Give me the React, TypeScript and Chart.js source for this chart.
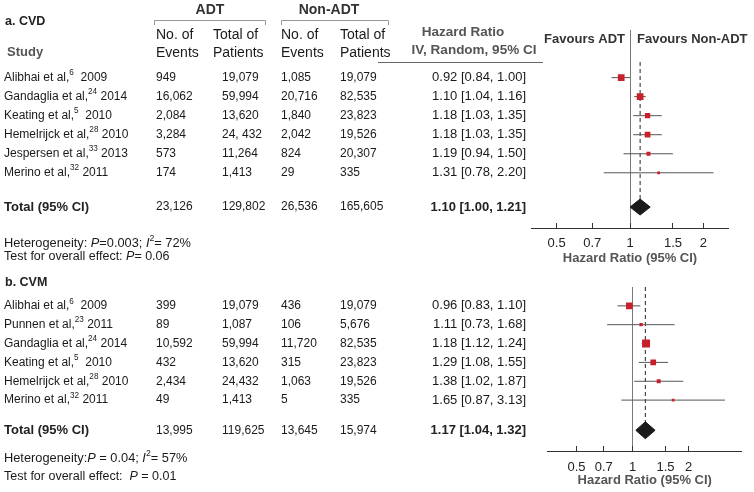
import React, { useEffect, useRef } from 'react';
import { Chart, registerables } from 'chart.js';

Chart.register(...registerables);

const FONT = '"Liberation Sans", Arial, Helvetica, sans-serif';

// ---------- Panel a: CVD ----------
const studiesA = ['Alibhai et al,', 'Gandaglia et al,', 'Keating et al,', 'Hemelrijck et al,', 'Jespersen et al,', 'Merino et al,'];
const refsA = ['6', '24', '5', '28', '33', '32'];
const yearsA = ['2009', '2014', '2010', '2010', '2013', '2011'];
const eventsAdtA = ['949', '16,062', '2,084', '3,284', '573', '174'];
const patientsAdtA = ['19,079', '59,994', '13,620', '24, 432', '11,264', '1,413'];
const eventsNonA = ['1,085', '20,716', '1,840', '2,042', '824', '29'];
const patientsNonA = ['19,079', '82,535', '23,823', '19,526', '20,307', '335'];
const hrA = [0.92, 1.10, 1.18, 1.18, 1.19, 1.31];
const loA = [0.84, 1.04, 1.03, 1.03, 0.94, 0.78];
const hiA = [1.00, 1.16, 1.35, 1.35, 1.50, 2.20];
const weightsA = [25.8, 25.8, 16.2, 18.7, 9.2, 4.2];
const totalsA = ['23,126', '129,802', '26,536', '165,605'];
const pooledA = [1.10, 1.00, 1.21];
const hetA = ['0.003', '72%'];
const testA = ['0.06'];

// ---------- Panel b: CVM ----------
const studiesB = ['Alibhai et al,', 'Punnen et al,', 'Gandaglia et al,', 'Keating et al,', 'Hemelrijck et al,', 'Merino et al,'];
const refsB = ['6', '23', '24', '5', '28', '32'];
const yearsB = ['2009', '2011', '2014', '2010', '2010', '2011'];
const eventsAdtB = ['399', '89', '10,592', '432', '2,434', '49'];
const patientsAdtB = ['19,079', '1,087', '59,994', '13,620', '24,432', '1,413'];
const eventsNonB = ['436', '106', '11,720', '315', '1,063', '5'];
const patientsNonB = ['19,079', '5,676', '82,535', '23,823', '19,526', '335'];
const hrB = [0.96, 1.11, 1.18, 1.29, 1.38, 1.65];
const loB = [0.83, 0.73, 1.12, 1.08, 1.02, 0.87];
const hiB = [1.10, 1.68, 1.24, 1.55, 1.87, 3.13];
const weightsB = [25.6, 6.2, 36.4, 18.5, 9.1, 4.2];
const totalsB = ['13,995', '119,625', '13,645', '15,974'];
const pooledB = [1.17, 1.04, 1.32];
const hetB = ['0.04', '57%'];
const testB = ['0.01'];

const tickValues = [0.5, 0.7, 1, 1.5, 2];
const tickLabels = ['0.5', '0.7', '1', '1.5', '2'];
const axisTitle = 'Hazard Ratio (95% CI)';

type Seg = { t: string; sup?: boolean; it?: boolean };

function fnt(size: number, bold?: boolean, italic?: boolean) {
  return `${italic ? 'italic ' : ''}${bold ? 'bold ' : ''}${size}px ${FONT}`;
}

function drawRich(
  ctx: CanvasRenderingContext2D,
  segs: Seg[],
  x: number,
  y: number,
  size: number,
  color: string,
  bold = false,
  align: 'left' | 'right' | 'center' = 'left'
) {
  ctx.save();
  ctx.textAlign = 'left';
  ctx.textBaseline = 'middle';
  ctx.fillStyle = color;
  const widths = segs.map((s) => {
    ctx.font = fnt(s.sup ? size * 0.68 : size, bold, s.it);
    return ctx.measureText(s.t).width;
  });
  const total = widths.reduce((a, b) => a + b, 0);
  let cx = align === 'right' ? x - total : align === 'center' ? x - total / 2 : x;
  segs.forEach((s, i) => {
    ctx.font = fnt(s.sup ? size * 0.68 : size, bold, s.it);
    ctx.fillText(s.t, cx, s.sup ? y - size * 0.38 : y);
    cx += widths[i];
  });
  ctx.restore();
}

const fmt = (v: number) => v.toFixed(2);

interface Panel {
  label: string;
  studies: string[];
  refs: string[];
  years: string[];
  evA: string[];
  ptA: string[];
  evN: string[];
  ptN: string[];
  hr: number[];
  lo: number[];
  hi: number[];
  w: number[];
  totals: string[];
  pooled: number[];
  het: string[];
  test: string[];
}

interface Layout {
  height: number;
  padTop: number;
  padLeft: number;
  padRight: number;
  xMin: number;
  xMax: number;
  yMin: number;
  yMax: number;
  totalRow: number;
  dashTop: number;
  diamondHalf: number;
  axisHeight: number;
  tickPad: number;
  titlePad: number;
  labelY: number;
  hetY: number;
  testY: number;
  hetSpace: string;
  testSpace: string;
  header: boolean;
}

const panelA: Panel = {
  label: 'a. CVD', studies: studiesA, refs: refsA, years: yearsA, evA: eventsAdtA, ptA: patientsAdtA,
  evN: eventsNonA, ptN: patientsNonA, hr: hrA, lo: loA, hi: hiA, w: weightsA, totals: totalsA,
  pooled: pooledA, het: hetA, test: testA,
};
const panelB: Panel = {
  label: 'b. CVM', studies: studiesB, refs: refsB, years: yearsB, evA: eventsAdtB, ptA: patientsAdtB,
  evN: eventsNonB, ptN: patientsNonB, hr: hrB, lo: loB, hi: hiB, w: weightsB, totals: totalsB,
  pooled: pooledB, het: hetB, test: testB,
};

const layoutA: Layout = {
  height: 268, padTop: 30, padLeft: 531.7, padRight: 25.7, xMin: 0.395, xMax: 2.53,
  yMin: -2.5, yMax: 7.9, totalRow: 6.8, dashTop: -0.82, diamondHalf: 0.42,
  axisHeight: 40, tickPad: 13, titlePad: 2, labelY: 22, hetY: 243, testY: 257,
  hetSpace: ' ', testSpace: ' ', header: true,
};
const layoutB: Layout = {
  height: 224, padTop: 19, padLeft: 547.7, padRight: 12.3, xMin: 0.35, xMax: 3.85,
  yMin: -1, yMax: 7.7, totalRow: 6.6, dashTop: -1, diamondHalf: 0.45,
  axisHeight: 41, tickPad: 14, titlePad: 4, labelY: 15, hetY: 190, testY: 209,
  hetSpace: '', testSpace: '  ', header: false,
};

const TXT = '#1a1a1a';
const COL = { name: 4, evA: 156, ptA: 222, evN: 281, ptN: 340, hr: 526 };

function drawHeader(ctx: CanvasRenderingContext2D) {
  drawRich(ctx, [{ t: 'ADT' }], 210, 10, 14, '#333', true, 'center');
  drawRich(ctx, [{ t: 'Non-ADT' }], 329, 10, 14, '#333', true, 'center');
  ctx.save();
  ctx.strokeStyle = '#999';
  ctx.lineWidth = 1;
  ctx.beginPath();
  ctx.moveTo(154.5, 25); ctx.lineTo(154.5, 20.5); ctx.lineTo(265.5, 20.5); ctx.lineTo(265.5, 25);
  ctx.moveTo(281.5, 25); ctx.lineTo(281.5, 20.5); ctx.lineTo(388.5, 20.5); ctx.lineTo(388.5, 25);
  ctx.stroke();
  ctx.strokeStyle = '#666';
  ctx.beginPath();
  ctx.moveTo(378, 62.5); ctx.lineTo(543, 62.5);
  ctx.stroke();
  ctx.restore();
  const cols: [number, string, string][] = [
    [COL.evA, 'No. of', 'Events'],
    [213, 'Total of', 'Patients'],
    [COL.evN, 'No. of', 'Events'],
    [COL.ptN, 'Total of', 'Patients'],
  ];
  cols.forEach(([x, a, b]) => {
    drawRich(ctx, [{ t: a }], x, 35, 14, TXT);
    drawRich(ctx, [{ t: b }], x, 53, 14, TXT);
  });
  drawRich(ctx, [{ t: 'Study' }], 7, 52, 13, '#555', true);
  drawRich(ctx, [{ t: 'Hazard Ratio' }], 463, 32, 13.5, '#555', true, 'center');
  drawRich(ctx, [{ t: 'IV, Random, 95% CI' }], 474, 50, 13.5, '#555', true, 'center');
  drawRich(ctx, [{ t: 'Favours ADT' }], 625, 39, 13, '#333', true, 'right');
  drawRich(ctx, [{ t: 'Favours Non-ADT' }], 637, 39, 13, '#333', true, 'left');
}

function buildChart(canvas: HTMLCanvasElement, p: Panel, lay: Layout) {
  const rows = p.hr.map((_, i) => i);
  const datasets: any[] = [];
  datasets.push({
    type: 'scatter',
    data: p.hr.map((v, i) => ({ x: v, y: rows[i] })),
    pointStyle: 'rect',
    pointRadius: p.w.map((w) => (1.32 * Math.sqrt(w)) / Math.SQRT2),
    backgroundColor: '#c8202a',
    borderWidth: 0,
  });
  const [ph, pl, pu] = p.pooled;
  const tr = lay.totalRow;
  const h = lay.diamondHalf;
  datasets.push({
    type: 'line',
    data: [
      { x: pl, y: tr }, { x: ph, y: tr - h }, { x: pu, y: tr }, { x: ph, y: tr + h }, { x: pl, y: tr },
    ],
    fill: 'shape',
    backgroundColor: '#1a1a1a',
    borderColor: '#1a1a1a',
    borderWidth: 1,
    pointRadius: 0,
    tension: 0,
  });
  rows.forEach((r, i) => {
    datasets.push({
      type: 'line',
      data: [{ x: p.lo[i], y: r }, { x: p.hi[i], y: r }],
      borderColor: '#555',
      borderWidth: 1,
      pointRadius: 0,
      fill: false,
    });
  });
  datasets.push({
    type: 'line',
    data: [{ x: ph, y: lay.dashTop }, { x: ph, y: tr }],
    borderColor: '#222',
    borderWidth: 1,
    borderDash: [4, 3],
    pointRadius: 0,
    fill: false,
  });

  const tablePlugin = {
    id: 'table',
    afterDraw(chart: any) {
      const ctx: CanvasRenderingContext2D = chart.ctx;
      const ys = chart.scales.y;
      if (lay.header) drawHeader(ctx);
      drawRich(ctx, [{ t: p.label }], 5, lay.labelY, 12.5, '#222', true);
      rows.forEach((r, i) => {
        const y = ys.getPixelForValue(r);
        const gap = p.refs[i].length === 1 ? '  ' : ' ';
        drawRich(ctx, [{ t: p.studies[i] }, { t: p.refs[i], sup: true }, { t: gap + p.years[i] }], COL.name, y, 12, TXT);
        drawRich(ctx, [{ t: p.evA[i] }], COL.evA, y, 12, TXT);
        drawRich(ctx, [{ t: p.ptA[i] }], COL.ptA, y, 12, TXT);
        drawRich(ctx, [{ t: p.evN[i] }], COL.evN, y, 12, TXT);
        drawRich(ctx, [{ t: p.ptN[i] }], COL.ptN, y, 12, TXT);
        drawRich(ctx, [{ t: `${fmt(p.hr[i])} [${fmt(p.lo[i])}, ${fmt(p.hi[i])}]` }], COL.hr, y, 13, TXT, false, 'right');
      });
      const ty = ys.getPixelForValue(tr);
      drawRich(ctx, [{ t: 'Total (95% CI)' }], COL.name, ty, 13, '#222', true);
      drawRich(ctx, [{ t: p.totals[0] }], COL.evA, ty, 12, TXT);
      drawRich(ctx, [{ t: p.totals[1] }], COL.ptA, ty, 12, TXT);
      drawRich(ctx, [{ t: p.totals[2] }], COL.evN, ty, 12, TXT);
      drawRich(ctx, [{ t: p.totals[3] }], COL.ptN, ty, 12, TXT);
      drawRich(ctx, [{ t: `${fmt(ph)} [${fmt(pl)}, ${fmt(pu)}]` }], COL.hr, ty, 13, '#222', true, 'right');
      drawRich(
        ctx,
        [{ t: 'Heterogeneity:' + lay.hetSpace }, { t: 'P', it: true }, { t: (lay.header ? '=' : ' = ') + p.het[0] + '; ' }, { t: 'I', it: true }, { t: '2', sup: true }, { t: '= ' + p.het[1] }],
        COL.name, lay.hetY, 12.8, TXT
      );
      drawRich(
        ctx,
        [{ t: 'Test for overall effect:' + lay.testSpace }, { t: 'P', it: true }, { t: (lay.header ? '= ' : ' = ') + p.test[0] }],
        COL.name, lay.testY, 12.5, TXT
      );
    },
  };

  return new Chart(canvas, {
    type: 'scatter',
    data: { datasets },
    plugins: [tablePlugin],
    options: {
      responsive: false,
      animation: false,
      devicePixelRatio: 1,
      events: [],
      layout: { padding: { top: lay.padTop, left: lay.padLeft, right: lay.padRight, bottom: 0 } },
      plugins: { legend: { display: false }, tooltip: { enabled: false }, title: { display: false } },
      scales: {
        x: {
          type: 'logarithmic',
          position: 'bottom',
          min: lay.xMin,
          max: lay.xMax,
          afterBuildTicks: (s: any) => {
            s.ticks = tickValues.map((v) => ({ value: v }));
          },
          afterFit: (s: any) => {
            s.height = lay.axisHeight;
          },
          ticks: {
            autoSkip: false,
            maxRotation: 0,
            padding: lay.tickPad,
            color: '#222',
            font: { family: FONT, size: 13 },
            callback: (v: any) => {
              const i = tickValues.indexOf(Number(v));
              return i >= 0 ? tickLabels[i] : '';
            },
          },
          grid: {
            drawOnChartArea: true,
            drawTicks: true,
            tickLength: -5,
            tickColor: '#333',
            tickWidth: 1,
            lineWidth: 1,
            color: (c: any) => (c.tick && c.tick.value === 1 ? '#7a7a7a' : 'rgba(0,0,0,0)'),
          },
          border: { display: true, color: '#333', width: 1 },
          title: {
            display: true,
            text: axisTitle,
            color: '#555',
            font: { family: FONT, size: 13, weight: 'bold' },
            padding: { top: 0, bottom: lay.titlePad },
          },
        },
        y: { type: 'linear', display: false, reverse: true, min: lay.yMin, max: lay.yMax },
      },
    } as any,
  });
}

export default function App() {
  const refA = useRef<HTMLCanvasElement>(null);
  const refB = useRef<HTMLCanvasElement>(null);
  useEffect(() => {
    const ca = buildChart(refA.current!, panelA, layoutA);
    const cb = buildChart(refB.current!, panelB, layoutB);
    return () => {
      ca.destroy();
      cb.destroy();
    };
  }, []);
  return (
    <div style={{ position: 'absolute', left: 0, top: 0, width: 754, height: 492, background: '#fff' }}>
      <canvas ref={refA} width={754} height={268} style={{ position: 'absolute', left: 0, top: 0 }} />
      <canvas ref={refB} width={754} height={224} style={{ position: 'absolute', left: 0, top: 268 }} />
    </div>
  );
}
